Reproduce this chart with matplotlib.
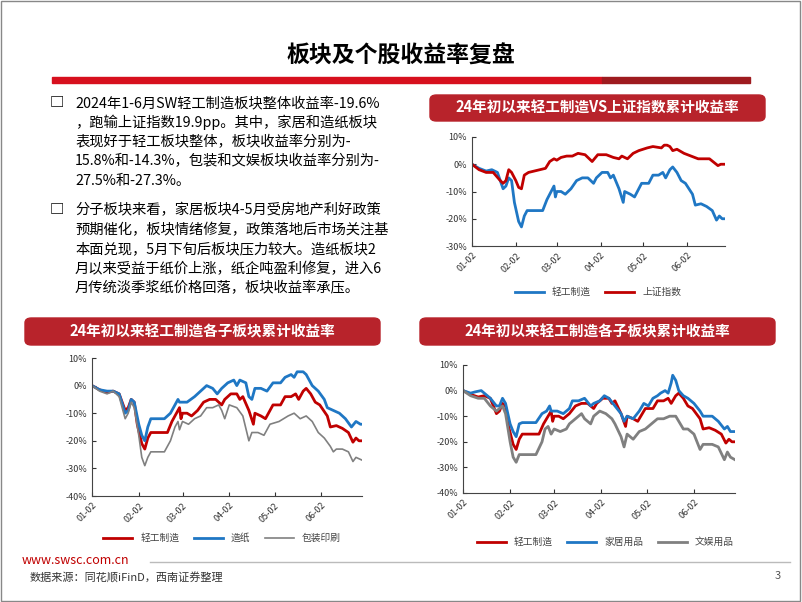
import matplotlib
matplotlib.use("Agg")
import matplotlib.pyplot as plt
from matplotlib.patches import FancyBboxPatch, Rectangle
from matplotlib.ticker import FuncFormatter

plt.rcParams['font.family'] = ['Noto Sans CJK SC', 'DejaVu Sans']

tick_days = [0, 31, 60, 91, 121, 152]
tick_labels = ["01-02", "02-02", "03-02", "04-02", "05-02", "06-02"]

light_x = [0,5,10,14,18,22,24,26,28,30,33,35,37,39,50,53,56,58,59,60,63,66,70,74,78,82,86,88,92,96,98,100,104,107,108,112,115,120,125,128,132,135,137,140,142,145,148,151,156,158,162,166,170,173,175,177,179]
light_y = [0,-1.5,-2.5,-2,-3,-9,-8,-5,-6,-14,-21,-23,-19,-17,-17,-13,-10,-8,-12,-10,-10,-11,-9,-6,-5,-5,-7,-5,-3,-3,-5,-4,-9,-14,-10,-11,-12,-7,-7,-4,-4,-3,-5,-2,-1,-3,-6,-7,-11,-15,-14.5,-15.5,-17,-20.5,-19,-20,-20]

sh_x = [0,5,10,15,20,22,24,26,28,31,33,35,37,40,48,52,55,58,60,63,67,71,75,80,85,89,95,100,104,106,110,114,118,124,128,134,136,138,140,142,145,150,155,160,168,174,176,179]
sh_y = [0,-2,-3,-3,-6,-7,-6,-2,-3,-6,-8.5,-9,-4,-3,-2,-1.5,1,2,1.5,2.5,3,3,4,3.5,1,3.5,3.5,2.5,2,3,2,4,5,6,6.5,6,7,7,6.5,5,5.5,4,3,2,2,-0.5,0,0]

paper_x = [0,5,10,14,18,22,24,26,28,31,33,35,37,39,48,52,55,57,58,63,68,72,76,80,83,86,90,94,96,98,102,104,106,108,112,116,120,125,128,132,134,136,140,142,146,150,154,156,160,164,168,172,175,178,179]
paper_y = [0,-1.5,-2,-2,-3,-10,-9,-5,-6,-14,-18,-20,-15,-12,-12,-10,-7,-5,-6,-6,-4,-2,0,-1,-3,-1,1,2,0,2,1,-4,-5,-1,-1,-2,1,1,3,4,3,5,5,4,0,-2,-5,-8,-9,-10,-12,-15,-13,-14,-14]

pack_x = [0,5,10,14,18,22,24,26,28,31,33,35,37,39,48,52,55,57,58,60,64,68,72,76,80,84,86,88,91,96,100,104,106,110,114,118,124,130,134,138,142,146,150,154,158,160,162,166,170,173,175,179]
pack_y = [0,-2,-3,-2,-4,-12,-10,-6,-8,-18,-26,-29,-26,-24,-24,-20,-15,-13,-16,-13,-14,-12,-11,-8,-8,-7,-9,-12,-7,-8,-11,-20,-17,-17,-18,-14,-13,-11,-10,-12,-11,-13,-17,-19,-22,-24,-23,-23,-24,-27.5,-26,-27]

home_x = [0,5,8,12,14,18,22,24,26,28,31,33,35,37,39,48,52,55,57,58,62,66,70,72,76,80,84,86,90,93,96,100,104,106,108,112,116,119,122,125,128,130,133,135,137,138,140,142,145,148,152,156,158,164,168,172,174,176,179]
home_y = [0,-1,-0.5,0,-1,-3,-6,-6,-3,-5,-13,-16,-18,-13,-12.5,-12.5,-9,-8,-6,-8,-8,-9,-7,-4,-4,-3,-6,-5,-4,-2,-3,-6,-9,-12,-10,-11,-8,-5,-6,-3,-2,-1,0,-1,3,6,4,0,-2,-3,-5,-8,-10,-10,-12,-15,-14,-16,-16]

ent_x = [0,5,10,14,18,22,24,26,28,31,33,35,37,48,52,54,56,58,60,64,68,70,74,78,80,84,86,90,94,98,100,104,106,108,112,116,120,124,128,132,136,140,142,145,148,152,154,156,158,164,168,172,174,176,179]
ent_y = [0,-2,-3,-3,-6,-8,-7,-6,-9,-20,-26,-28,-25,-25,-20,-15,-14,-17,-15,-16,-15,-13,-11,-9,-11,-13,-10,-8,-9,-11,-13,-18,-22,-17,-19,-16,-15,-13,-11,-11,-10,-10,-12,-15,-15,-17,-20,-23,-21,-21,-22,-27,-24,-26,-27]

RED = '#C00000'
BLUE = '#1F77C4'
GRAY = '#808080'
W, H = 802, 602

fig = plt.figure(figsize=(8.02, 6.02), dpi=100)

def ax_px(x0, y0, x1, y1):
    return fig.add_axes([x0 / W, 1 - y1 / H, (x1 - x0) / W, (y1 - y0) / H])

def fx(x): return x / W
def fy(y): return 1 - y / H

# slide border
fig.patches.append(Rectangle((0.001, 0.001), 0.997, 0.997, transform=fig.transFigure, fill=False, ec='#888888', lw=1))
# title and red bar
fig.patches.append(Rectangle((fx(52), fy(83)), fx(550), 6 / H, transform=fig.transFigure, color='#D7101E'))
fig.patches.append(Rectangle((fx(602), fy(83)), fx(148), 6 / H, transform=fig.transFigure, color='#9E1B1F'))
fig.text(0.5, fy(56), "板块及个股收益率复盘", ha='center', va='center', fontsize=16.5, fontweight='bold')

# bullets text
para1 = ["2024年1-6月SW轻工制造板块整体收益率-19.6%", "，跑输上证指数19.9pp。其中，家居和造纸板块",
         "表现好于轻工板块整体，板块收益率分别为-", "15.8%和-14.3%，包装和文娱板块收益率分别为-", "27.5%和-27.3%。"]
para2 = ["分子板块来看，家居板块4-5月受房地产利好政策", "预期催化，板块情绪修复，政策落地后市场关注基",
         "本面兑现，5月下旬后板块压力较大。造纸板块2", "月以来受益于纸价上涨，纸企吨盈利修复，进入6",
         "月传统淡季浆纸价格回落，板块收益率承压。"]
FS = 10.3
y = 103
fig.text(fx(50), fy(y), "□", fontsize=FS, va='center', fontweight='bold')
for line in para1:
    fig.text(fx(75), fy(y), line, fontsize=FS, va='center'); y += 19.5
y = 210
fig.text(fx(50), fy(y), "□", fontsize=FS, va='center', fontweight='bold')
for line in para2:
    fig.text(fx(75), fy(y), line, fontsize=FS, va='center'); y += 19.5

def banner(x0, y0, x1, y1, text):
    p = FancyBboxPatch((fx(x0), fy(y1)), (x1 - x0) / W, (y1 - y0) / H, boxstyle="round,pad=0,rounding_size=0.008",
                       transform=fig.transFigure, color='#B8232B')
    fig.patches.append(p)
    fig.text(fx((x0 + x1) / 2), fy((y0 + y1) / 2), text, ha='center', va='center', color='white',
             fontsize=10.5, fontweight='bold')

def style(ax, ylo, yhi):
    ax.set_xlim(0, 179)
    ax.set_ylim(ylo, yhi)
    ax.set_yticks(range(ylo, yhi + 1, 10))
    ax.yaxis.set_major_formatter(FuncFormatter(lambda v, p: f"{int(v)}%"))
    ax.set_xticks(tick_days)
    ax.set_xticklabels(tick_labels, rotation=45, ha='right', rotation_mode='anchor')
    ax.tick_params(labelsize=6.5, length=3, direction='in', colors='#333333')
    for s in ['top', 'right']:
        ax.spines[s].set_visible(False)
    for s in ['left', 'bottom']:
        ax.spines[s].set_color('#444444')
    ax.patch.set_alpha(0)

def legend(ax, ypx, xc, ncol):
    leg = ax.legend(loc='center', bbox_to_anchor=(fx(xc), fy(ypx)), bbox_transform=fig.transFigure,
                    ncol=ncol, frameon=False, handlelength=3, columnspacing=1.5,
                    prop={'family': 'Noto Sans CJK SC', 'size': 7})
    for t in leg.get_texts():
        t.set_color('#444444')

# chart 1
banner(430, 95, 765, 121, "24年初以来轻工制造VS上证指数累计收益率")
ax1 = ax_px(472, 137, 725, 246)
ax1.plot(light_x, light_y, color=BLUE, lw=2, label="轻工制造")
ax1.plot(sh_x, sh_y, color=RED, lw=2, label="上证指数")
style(ax1, -30, 10)
legend(ax1, 292, 598, 2)

# chart 2
banner(25, 318, 380, 345, "24年初以来轻工制造各子板块累计收益率")
ax2 = ax_px(92, 358, 362, 496)
ax2.plot(light_x, light_y, color=RED, lw=2, label="轻工制造")
ax2.plot(paper_x, paper_y, color=BLUE, lw=2, label="造纸")
ax2.plot(pack_x, pack_y, color=GRAY, lw=1.2, label="包装印刷")
style(ax2, -40, 10)
legend(ax2, 538, 222, 3)

# chart 3
banner(420, 318, 775, 345, "24年初以来轻工制造各子板块累计收益率")
ax3 = ax_px(463, 365, 735, 493)
ax3.plot(light_x, light_y, color=RED, lw=2, label="轻工制造")
ax3.plot(home_x, home_y, color=BLUE, lw=2, label="家居用品")
ax3.plot(ent_x, ent_y, color=GRAY, lw=2, label="文娱用品")
style(ax3, -40, 10)
legend(ax3, 542, 605, 3)

# footer
fig.text(fx(22), fy(560), "www.swsc.com.cn", color=RED, fontsize=9, va='center')
fig.lines.append(plt.Line2D([fx(150), fx(790)], [fy(562), fy(562)], transform=fig.transFigure, color='#BBBBBB', lw=1))
fig.text(fx(30), fy(578), "数据来源：同花顺iFinD，西南证券整理", fontsize=8, style='italic', va='center', color='#333333')
fig.text(fx(775), fy(576), "3", fontsize=8, va='center', color='#555555')

fig.savefig("out.png", dpi=100)
